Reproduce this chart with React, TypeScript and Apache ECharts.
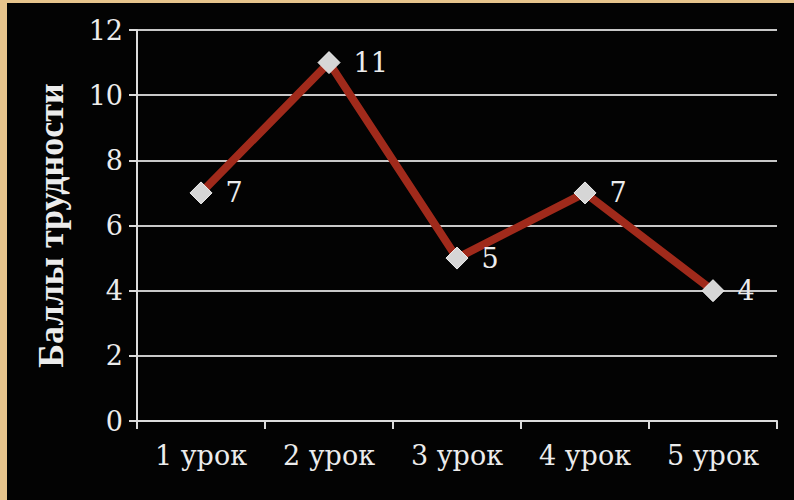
import React, { useEffect, useRef } from "react";
import * as echarts from "echarts";

const lessons = ["1 урок", "2 урок", "3 урок", "4 урок", "5 урок"];
const difficulty = [7, 11, 5, 7, 4];
const yTicks = { min: 0, max: 12, interval: 2 };
const yAxisTitle = "Баллы трудности";

const FONT = "'DejaVu Serif', 'Liberation Serif', serif";
const TITLE_FONT = "'Liberation Serif', 'DejaVu Serif', serif";
const TEXT = "#ececec";

export default function App() {
  const ref = useRef<HTMLDivElement>(null);

  useEffect(() => {
    if (!ref.current) return;
    const chart = echarts.init(ref.current, null, { renderer: "svg" });
    chart.setOption({
      animation: false,
      backgroundColor: "#030303",
      graphic: [
        { type: "rect", left: 0, top: 0, shape: { width: 794, height: 3 }, style: { fill: "#e7c48c" }, z: 10 },
        { type: "rect", left: 0, top: 0, shape: { width: 7, height: 500 }, style: { fill: "#e7c48c" }, z: 10 },
      ],
      grid: { left: 137, top: 30, right: 17, bottom: 79, containLabel: false },
      xAxis: {
        type: "category",
        data: lessons,
        boundaryGap: true,
        axisLine: { lineStyle: { color: "#dcdcdc", width: 2 } },
        axisTick: { show: true, length: 8, lineStyle: { color: "#dcdcdc", width: 2 } },
        axisLabel: { color: TEXT, fontFamily: FONT, fontSize: 27, margin: 21 },
        splitLine: { show: false },
      },
      yAxis: {
        type: "value",
        min: yTicks.min,
        max: yTicks.max,
        interval: yTicks.interval,
        name: yAxisTitle,
        nameLocation: "middle",
        nameGap: 68,
        nameTextStyle: { color: TEXT, fontFamily: TITLE_FONT, fontSize: 36, fontWeight: "bold" },
        axisLine: { show: true, lineStyle: { color: "#dcdcdc", width: 2 } },
        axisTick: { show: true, length: 8, lineStyle: { color: "#dcdcdc", width: 2 } },
        axisLabel: { color: TEXT, fontFamily: FONT, fontSize: 27, margin: 14 },
        splitLine: { show: true, lineStyle: { color: "#c8c8c8", width: 2 } },
      },
      series: [
        {
          type: "line",
          data: difficulty,
          symbol: "diamond",
          symbolSize: 22,
          itemStyle: { color: "#d6d6d6", borderColor: "#f2f2f2", borderWidth: 1 },
          lineStyle: { color: "#a02a1b", width: 8 },
          label: {
            show: true,
            position: "right",
            distance: 13,
            color: TEXT,
            fontFamily: FONT,
            fontSize: 27,
          },
        },
      ],
    });
    return () => chart.dispose();
  }, []);

  return (
    <div
      ref={ref}
      style={{ position: "absolute", left: 0, top: 0, width: 794, height: 500 }}
    />
  );
}
